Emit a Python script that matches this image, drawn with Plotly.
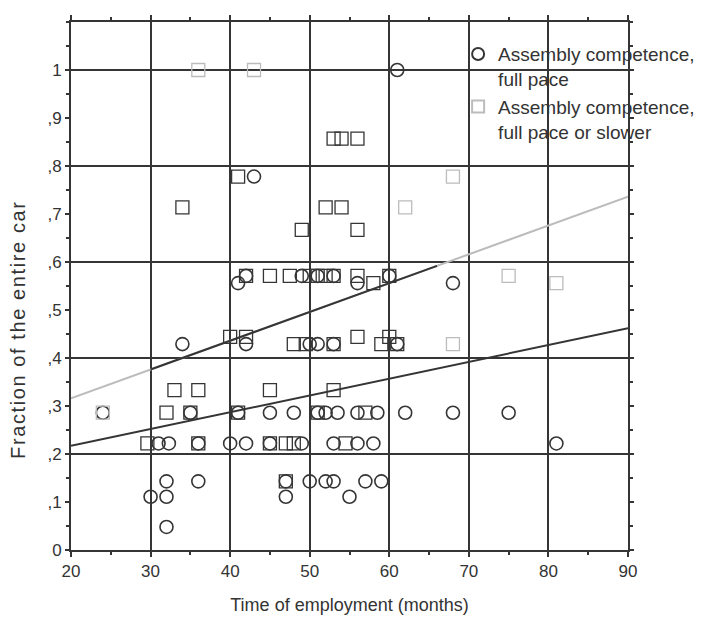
import numpy as np
import plotly.graph_objects as go

# ---- data ----
full_x = [61, 43,
          42, 49, 51, 53, 60,
          41, 56, 68,
          34, 42, 50, 51, 53, 61,
          24, 35, 41, 45, 48, 51, 52, 53.5, 56, 58.5, 62, 68, 75,
          31, 32.3, 36, 40, 42, 45, 49, 53, 56, 58, 81,
          32, 36, 47, 50, 52, 53, 57, 59,
          30, 32, 47, 55,
          32]
full_y = [1.0, 0.778,
          0.571, 0.571, 0.571, 0.571, 0.571,
          0.556, 0.556, 0.556,
          0.429, 0.429, 0.429, 0.429, 0.429, 0.429,
          0.286, 0.286, 0.286, 0.286, 0.286, 0.286, 0.286, 0.286, 0.286, 0.286, 0.286, 0.286, 0.286,
          0.222, 0.222, 0.222, 0.222, 0.222, 0.222, 0.222, 0.222, 0.222, 0.222, 0.222,
          0.143, 0.143, 0.143, 0.143, 0.143, 0.143, 0.143, 0.143,
          0.111, 0.111, 0.111, 0.111,
          0.048]

slower_x = [36, 43,
            53, 54, 56,
            41, 68,
            34, 52, 54, 62,
            49, 56,
            42, 45, 47.5, 50, 51, 52, 53, 56, 60, 75,
            58, 81,
            40, 42, 56, 60,
            48, 49.5, 53, 59, 61, 68,
            33, 36, 45, 53,
            24, 32, 35, 41, 51, 57,
            29.6, 36, 45, 47, 48, 54.5,
            47]
slower_y = [1.0, 1.0,
            0.857, 0.857, 0.857,
            0.778, 0.778,
            0.714, 0.714, 0.714, 0.714,
            0.667, 0.667,
            0.571, 0.571, 0.571, 0.571, 0.571, 0.571, 0.571, 0.571, 0.571, 0.571,
            0.556, 0.556,
            0.444, 0.444, 0.444, 0.444,
            0.429, 0.429, 0.429, 0.429, 0.429, 0.429,
            0.333, 0.333, 0.333, 0.333,
            0.286, 0.286, 0.286, 0.286, 0.286, 0.286,
            0.222, 0.222, 0.222, 0.222, 0.222, 0.222,
            0.143]

fit_x = [20, 90]
fit_full = [0.217, 0.462]
fit_slower = [0.316, 0.736]

y_tickvals = [0, 0.1, 0.2, 0.3, 0.4, 0.5, 0.6, 0.7, 0.8, 0.9, 1.0]
y_ticktext = ["0", ",1", ",2", ",3", ",4", ",5", ",6", ",7", ",8", ",9", "1"]

name_full = "Assembly competence,<br>full pace"
name_slower = "Assembly competence,<br>full pace or slower"
x_title = "Time of employment (months)"
y_title = "Fraction of the entire car"

# ---- styles ----
DARK = "#353535"
GRAY = "#bcbcbc"
FONT = "Liberation Sans, Arial, sans-serif"

sq_colors = [DARK if (29 < x < 61.5 and y < 0.95) else GRAY
             for x, y in zip(slower_x, slower_y)]

fig = go.Figure()

# upper fit line (gray), with the darkened middle stretch seen in the scan
fig.add_trace(go.Scatter(x=fit_x, y=fit_slower, mode="lines",
                         line=dict(color=GRAY, width=2), showlegend=False,
                         hoverinfo="skip"))
mid_x = [30, 66]
fig.add_trace(go.Scatter(x=mid_x, y=list(np.interp(mid_x, fit_x, fit_slower)),
                         mode="lines", line=dict(color=DARK, width=2),
                         showlegend=False, hoverinfo="skip"))
fig.add_trace(go.Scatter(x=fit_x, y=fit_full, mode="lines",
                         line=dict(color=DARK, width=2), showlegend=False,
                         hoverinfo="skip"))

fig.add_trace(go.Scatter(x=full_x, y=full_y, mode="markers", name=name_full,
                         marker=dict(symbol="circle-open", size=13,
                                     color=DARK, line=dict(width=1.6, color=DARK))))
fig.add_trace(go.Scatter(x=slower_x, y=slower_y, mode="markers", name=name_slower,
                         marker=dict(symbol="square-open", size=13,
                                     color=sq_colors, line=dict(width=1.3))))

# grid-only overlay axis (gridlines every 0.2)
fig.add_trace(go.Scatter(x=[None], y=[None], yaxis="y2", showlegend=False,
                         hoverinfo="skip"))

fig.update_layout(
    width=705, height=617,
    margin=dict(l=63, r=85, t=7, b=75),
    paper_bgcolor="white", plot_bgcolor="white",
    font=dict(family=FONT, size=17, color="#333333"),
    xaxis=dict(range=[20, 90], tickmode="linear", tick0=20, dtick=10,
               showgrid=True, gridcolor=DARK, gridwidth=2,
               showline=True, linecolor=DARK, linewidth=2, mirror="ticks",
               ticks="outside", ticklen=5, tickwidth=1.5, tickcolor=DARK,
               minor=dict(dtick=5, ticks="outside", ticklen=3, tickcolor=DARK,
                          showgrid=False),
               zeroline=False,
               title=dict(text=x_title, font=dict(size=18), standoff=18),
               tickfont=dict(size=17)),
    yaxis=dict(range=[0, 1.1], tickmode="array", tickvals=y_tickvals,
               ticktext=y_ticktext, showgrid=False,
               showline=True, linecolor=DARK, linewidth=2, mirror="ticks",
               ticks="outside", ticklen=4, tickwidth=1.5, tickcolor=DARK,
               minor=dict(dtick=0.05, tick0=0, ticks="outside", ticklen=3,
                          tickcolor=DARK, showgrid=False),
               zeroline=False,
               tickfont=dict(size=17)),
    yaxis2=dict(range=[0, 1.1], overlaying="y", anchor="x", side="left",
                tickmode="linear", tick0=0, dtick=0.2, showgrid=True,
                gridcolor=DARK, gridwidth=2, showticklabels=False, ticks="",
                showline=False, zeroline=False),
    legend=dict(x=0.695, y=0.975, xanchor="left", yanchor="top",
                valign="top",
                bgcolor="rgba(0,0,0,0)", borderwidth=0,
                font=dict(family=FONT, size=19, color="#333333"),
                tracegroupgap=10, itemsizing="constant"),
    annotations=[dict(text='<span style="letter-spacing:1.6px">' + y_title + '</span>',
                      xref="paper", yref="paper", x=-0.095, y=0.417,
                      xanchor="center", yanchor="middle", textangle=-90,
                      showarrow=False, font=dict(size=20, color="#333333"))],
)

fig.write_html("out.html")
